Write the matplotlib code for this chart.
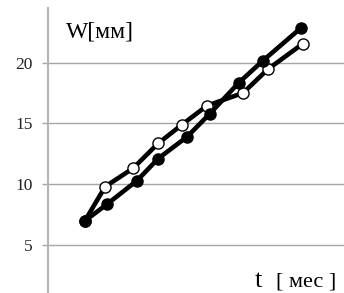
import numpy as np
import matplotlib.pyplot as plt

# данные (t - условные единицы по оси, W в мм)
t1 = [1.25, 1.99, 3.01, 3.72, 4.70, 5.47, 6.45, 7.26, 8.55]
w1 = [7.0, 8.35, 10.3, 12.1, 13.9, 15.8, 18.35, 20.15, 22.85]
t2 = [1.25, 1.93, 2.87, 3.72, 4.53, 5.37, 6.59, 7.43, 8.61]
w2 = [7.0, 9.8, 11.3, 13.35, 14.9, 16.45, 17.5, 19.45, 21.55]
yticks = [5, 10, 15, 20]

plt.rcParams['font.family'] = ['Liberation Serif', 'DejaVu Serif']

fig = plt.figure(figsize=(3.44, 2.93), dpi=100)
ax = fig.add_axes([48/344, 0, 1-48/344, 1-8/293])

# сначала линии, потом маркеры (закрашенные сверху)
ax.plot(t1, w1, color='black', lw=3.3, zorder=3)
ax.plot(t2, w2, color='black', lw=3.3, zorder=3)
ax.plot(t2, w2, ls='none', marker='o', ms=8, mfc='white', mec='black', mew=1, zorder=4)
ax.plot(t1, w1, ls='none', marker='o', ms=8, mfc='black', mec='black', zorder=5)

ax.set_xlim(0, 10)
ax.set_ylim(1.06, 24.48)
ax.set_yticks(yticks)
ax.set_xticks([])
ax.grid(True, axis='y', color='#a6a6a6', lw=1)
ax.set_axisbelow(True)
for s in ['top', 'right', 'bottom']:
    ax.spines[s].set_visible(False)
ax.spines['left'].set_color('#b4b4b4')
ax.spines['left'].set_linewidth(1.5)
ax.tick_params(axis='y', length=4, width=1, color='#a6a6a6', pad=7, labelsize=12.5, labelcolor='#222222')

fig.text(66/344, 1-38/293, 'W[мм]', fontsize=17, va='baseline', ha='left')
fig.text(255/344, 1-287/293, 't', fontsize=19, va='baseline', ha='left')
fig.text(276/344, 1-287/293, '[ мес ]', fontsize=16, va='baseline', ha='left')

plt.savefig('out.png', dpi=100)
